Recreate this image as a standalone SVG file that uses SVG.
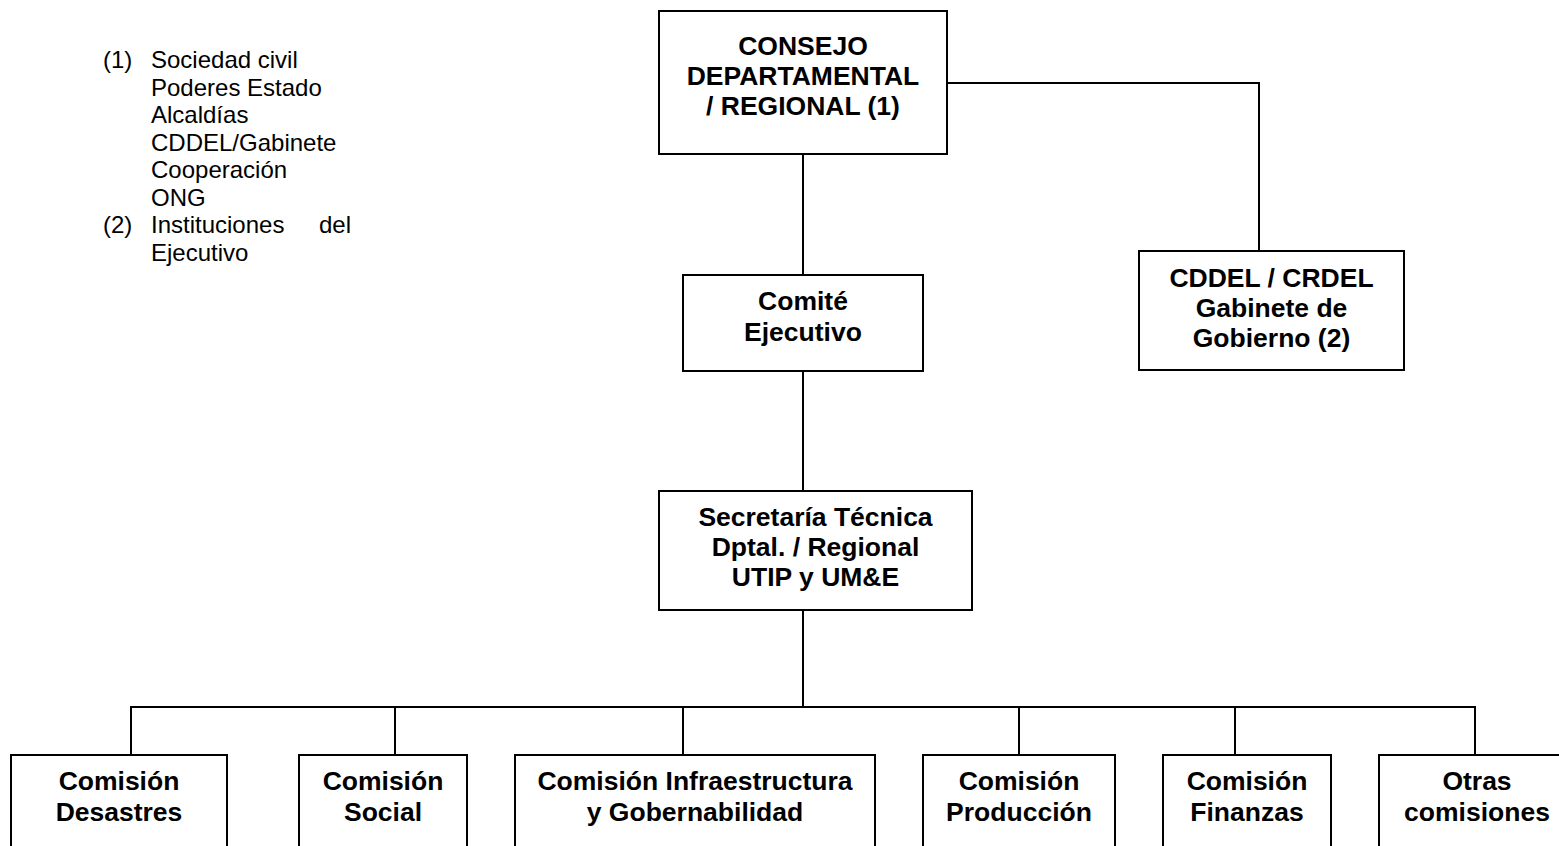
<svg xmlns="http://www.w3.org/2000/svg" width="1559" height="846" viewBox="0 0 1559 846">
<style>
.box{fill:#fff;stroke:#000;stroke-width:2}
.b{font-family:"Liberation Sans",Arial,sans-serif;font-weight:bold;font-size:26.5px;text-anchor:middle;fill:#000}
.r{font-family:"Liberation Sans",Arial,sans-serif;font-size:24px;fill:#000}
.ln{fill:none;stroke:#000;stroke-width:2}
</style>
<rect width="1559" height="846" fill="#fff"/>
<g id="legend">
<text class="r" x="103" y="68">(1)</text>
<text class="r" x="151" y="68">Sociedad civil</text>
<text class="r" x="151" y="95.5">Poderes Estado</text>
<text class="r" x="151" y="123">Alcaldías</text>
<text class="r" x="151" y="150.5">CDDEL/Gabinete</text>
<text class="r" x="151" y="178">Cooperación</text>
<text class="r" x="151" y="205.5">ONG</text>
<text class="r" x="103" y="233">(2)</text>
<text class="r" x="151" y="233">Instituciones</text>
<text class="r" x="351" y="233" text-anchor="end">del</text>
<text class="r" x="151" y="260.5">Ejecutivo</text>
</g>
<g id="connectors">
<polyline class="ln" points="947,83 1259,83 1259,251"/>
<line class="ln" x1="803" y1="154" x2="803" y2="275"/>
<line class="ln" x1="803" y1="371" x2="803" y2="491"/>
<line class="ln" x1="803" y1="610" x2="803" y2="707"/>
<line class="ln" x1="130" y1="707" x2="1476" y2="707"/>
<line class="ln" x1="131" y1="707" x2="131" y2="755"/>
<line class="ln" x1="395" y1="707" x2="395" y2="755"/>
<line class="ln" x1="683" y1="707" x2="683" y2="755"/>
<line class="ln" x1="1019" y1="707" x2="1019" y2="755"/>
<line class="ln" x1="1235" y1="707" x2="1235" y2="755"/>
<line class="ln" x1="1475" y1="707" x2="1475" y2="755"/>
</g>
<g id="consejo">
<rect class="box" x="659" y="11" width="288" height="143"/>
<text class="b" x="803" y="55">CONSEJO</text>
<text class="b" x="803" y="85">DEPARTAMENTAL</text>
<text class="b" x="803" y="115">/ REGIONAL (1)</text>
</g>
<g id="cddel">
<rect class="box" x="1139" y="251" width="265" height="119"/>
<text class="b" x="1271.5" y="287">CDDEL / CRDEL</text>
<text class="b" x="1271.5" y="317">Gabinete de</text>
<text class="b" x="1271.5" y="347">Gobierno (2)</text>
</g>
<g id="comite">
<rect class="box" x="683" y="275" width="240" height="96"/>
<text class="b" x="803" y="310">Comité</text>
<text class="b" x="803" y="341">Ejecutivo</text>
</g>
<g id="secretaria">
<rect class="box" x="659" y="491" width="313" height="119"/>
<text class="b" x="815.5" y="526">Secretaría Técnica</text>
<text class="b" x="815.5" y="556">Dptal. / Regional</text>
<text class="b" x="815.5" y="586">UTIP y UM&amp;E</text>
</g>
<g id="desastres">
<rect class="box" x="11" y="755" width="216" height="110"/>
<text class="b" x="119" y="790">Comisión</text>
<text class="b" x="119" y="821">Desastres</text>
</g>
<g id="social">
<rect class="box" x="299" y="755" width="168" height="110"/>
<text class="b" x="383" y="790">Comisión</text>
<text class="b" x="383" y="821">Social</text>
</g>
<g id="infraestructura">
<rect class="box" x="515" y="755" width="360" height="110"/>
<text class="b" x="695" y="790">Comisión Infraestructura</text>
<text class="b" x="695" y="821">y Gobernabilidad</text>
</g>
<g id="produccion">
<rect class="box" x="923" y="755" width="192" height="110"/>
<text class="b" x="1019" y="790">Comisión</text>
<text class="b" x="1019" y="821">Producción</text>
</g>
<g id="finanzas">
<rect class="box" x="1163" y="755" width="168" height="110"/>
<text class="b" x="1247" y="790">Comisión</text>
<text class="b" x="1247" y="821">Finanzas</text>
</g>
<g id="otras">
<rect class="box" x="1379" y="755" width="196" height="110"/>
<text class="b" x="1477" y="790">Otras</text>
<text class="b" x="1477" y="821">comisiones</text>
</g>
</svg>
